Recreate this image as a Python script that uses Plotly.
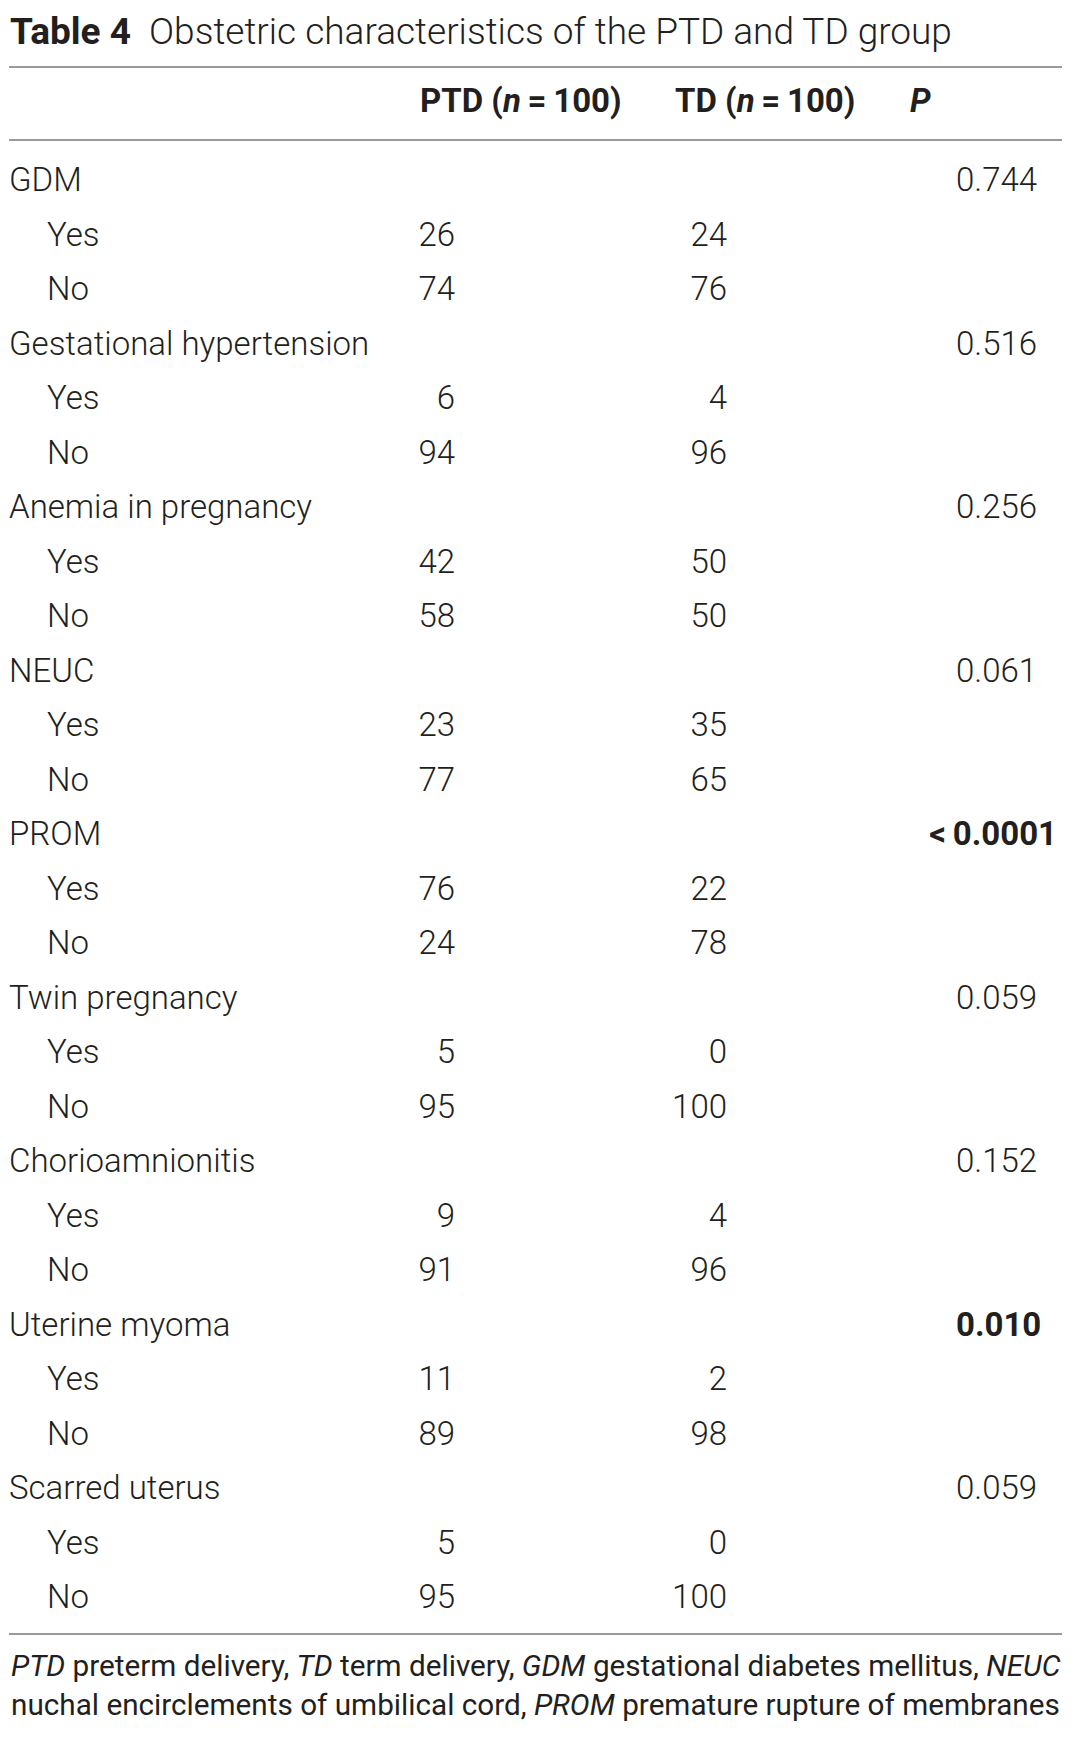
import plotly.graph_objects as go

# ---------------- data ----------------
categories = ["GDM", "Gestational hypertension", "Anemia in pregnancy", "NEUC", "PROM",
              "Twin pregnancy", "Chorioamnionitis", "Uterine myoma", "Scarred uterus"]
ptd_yes = [26, 6, 42, 23, 76, 5, 9, 11, 5]
ptd_no = [74, 94, 58, 77, 24, 95, 91, 89, 95]
td_yes = [24, 4, 50, 35, 22, 0, 4, 2, 0]
td_no = [76, 96, 50, 65, 78, 100, 96, 98, 100]
p_values = ["0.744", "0.516", "0.256", "0.061", "<0.0001", "0.059", "0.152", "0.010", "0.059"]
p_bold = [False, False, False, False, True, False, False, True, False]
sub_labels = ["Yes", "No"]
headers = ["PTD (<i>n</i>\u2009=\u2009100)", "TD (<i>n</i>\u2009=\u2009100)", "<i>P</i>"]
title_bold = "Table 4"
title_text = "Obstetric characteristics of the PTD and TD group"
footnote_lines = [
    "<i>PTD</i> preterm delivery, <i>TD</i> term delivery, <i>GDM</i> gestational diabetes mellitus, <i>NEUC</i>",
    "nuchal encirclements of umbilical cord, <i>PROM</i> premature rupture of membranes",
]

# ---------------- style ----------------
W, H = 1080, 1740
OFF = 8  # page body margin
FONT = "Roboto, Open Sans, Noto Sans, sans-serif"
INK = "#231f20"
RULE = "#9a9a9a"
BODY = 33
ROW0, ROWH = 183, 54.5
X_LABEL, X_SUB = 9, 47
X_PTD, X_TD = 455, 727
X_P = 956
X_PR = 1057

fig = go.Figure()

lab_x, lab_y, lab_t = [], [], []
ptd_y, ptd_t, td_y, td_t = [], [], [], []
p_left, p_right = [], []
row = 0
for i, cat in enumerate(categories):
    y = ROW0 + row * ROWH
    lab_x.append(X_LABEL); lab_y.append(y); lab_t.append(cat)
    t = p_values[i]
    if t.startswith("<"):
        t = "&lt;\u2009" + t[1:]
        t = "<b>" + t + "</b>" if p_bold[i] else t
        p_right.append((y, t))
    else:
        t = "<b>" + t + "</b>" if p_bold[i] else t
        p_left.append((y, t))
    row += 1
    for s, pv, tv in zip(sub_labels, [ptd_yes[i], ptd_no[i]], [td_yes[i], td_no[i]]):
        y = ROW0 + row * ROWH
        lab_x.append(X_SUB); lab_y.append(y); lab_t.append(s)
        ptd_y.append(y); ptd_t.append(str(pv))
        td_y.append(y); td_t.append(str(tv))
        row += 1

tf = dict(family=FONT, size=BODY, color=INK, weight=300)
fig.add_trace(go.Scatter(x=lab_x, y=lab_y, text=lab_t, mode="text",
                         textposition="middle right", textfont=tf, hoverinfo="skip"))
fig.add_trace(go.Scatter(x=[X_PTD] * len(ptd_y), y=ptd_y, text=ptd_t, mode="text",
                         textposition="middle left", textfont=tf, hoverinfo="skip"))
fig.add_trace(go.Scatter(x=[X_TD] * len(td_y), y=td_y, text=td_t, mode="text",
                         textposition="middle left", textfont=tf, hoverinfo="skip"))
fig.add_trace(go.Scatter(x=[X_P] * len(p_left), y=[a for a, _ in p_left], text=[b for _, b in p_left],
                         mode="text", textposition="middle right", textfont=tf, hoverinfo="skip"))
fig.add_trace(go.Scatter(x=[X_PR] * len(p_right), y=[a for a, _ in p_right], text=[b for _, b in p_right],
                         mode="text", textposition="middle left", textfont=tf, hoverinfo="skip"))

# header
hf = dict(family=FONT, size=BODY, color=INK, weight=700)
fig.add_annotation(x=521, y=100, text="<b>" + headers[0] + "</b>", showarrow=False, xanchor="center", yanchor="middle", font=hf)
fig.add_annotation(x=765, y=100, text="<b>" + headers[1] + "</b>", showarrow=False, xanchor="center", yanchor="middle", font=hf)
fig.add_annotation(x=908, y=100, text="<b>" + headers[2] + "</b>", showarrow=False, xanchor="left", yanchor="middle", font=hf)

# title
fig.add_annotation(x=9, y=31, text="<b>" + title_bold + "</b>  " + title_text, showarrow=False,
                   xanchor="left", yanchor="middle", borderpad=0,
                   font=dict(family=FONT, size=37, color=INK, weight=300))

# footnote
for k, line in enumerate(footnote_lines):
    fig.add_annotation(x=9, y=1665 + k * 39, text=line, showarrow=False, xanchor="left", yanchor="middle",
                       font=dict(family=FONT, size=29.7, color=INK))

# rules
for yy in [67, 140, 1634]:
    fig.add_shape(type="line", x0=9, x1=1062, y0=yy, y1=yy, line=dict(color=RULE, width=2))

fig.update_layout(width=W, height=H, margin=dict(l=0, r=0, t=0, b=0),
                  paper_bgcolor="white", plot_bgcolor="white", showlegend=False,
                  xaxis=dict(range=[OFF, W + OFF], visible=False, fixedrange=True),
                  yaxis=dict(range=[H + OFF, OFF], visible=False, fixedrange=True))
fig.write_html("out.html")
